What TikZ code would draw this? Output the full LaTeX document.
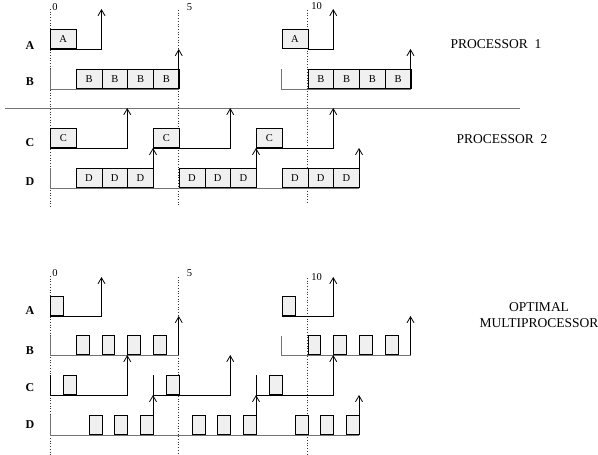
\documentclass[tikz,border=0pt]{standalone}
\usepackage{fontspec}
\setmainfont{Liberation Serif}
\usetikzlibrary{arrows.meta}
\newcommand\T[1]{(50+25.75*(#1))}
\tikzset{
  jobbox/.style={draw=black, fill=gray!12, line width=0.8pt, inner sep=0pt, minimum height=19.5pt, anchor=south west, font=\fontsize{10.5}{10.5}\selectfont},
  blk/.style={draw=black, line width=0.8pt},
  gry/.style={draw=black!55, line width=0.9pt},
  arr/.style={-{Straight Barb[length=6pt,width=7pt]}},
  dots/.style={draw=black!80, dotted, line width=0.7pt},
  rowlab/.style={font=\fontsize{12}{12}\selectfont\bfseries},
  numlab/.style={font=\fontsize{10.5}{10.5}\selectfont},
  title/.style={font=\fontsize{13.5}{16}\selectfont, align=center}
}
\newcommand\jb[5]{\node[jobbox, minimum width={25.75*(#3)}] (#1) at ({\T{#2}},#4) {#5};}
\begin{document}
\begin{tikzpicture}[x=1pt,y=-1pt]
\useasboundingbox (0,0) rectangle (598,455);
% dotted time lines
\draw[dots] ({\T{0}},9) -- ({\T{0}},207);
\draw[dots] ({\T{5}},10) -- ({\T{5}},207);
\draw[dots] ({\T{10}},10) -- ({\T{10}},203);
\draw[dots] ({\T{0}},276) -- ({\T{0}},455);
\draw[dots] ({\T{5}},277) -- ({\T{5}},455);
\draw[dots] ({\T{10}},278) -- ({\T{10}},455);
\node[numlab] (n0) at (55,7) {0};
\node[numlab] (n5) at (189.5,7) {5};
\node[numlab] (n10) at (316.5,6) {10};
\node[numlab] (m0) at (55,273) {0};
\node[numlab] (m5) at (189.5,273) {5};
\node[numlab] (m10) at (316.5,277) {10};
% separator
\draw[gry] (5,108) -- (520,108);
% row labels
\node[rowlab] (lA1) at (30,46) {A};
\node[rowlab] (lB1) at (30,82) {B};
\node[rowlab] (lC2) at (30,143) {C};
\node[rowlab] (lD2) at (30,182) {D};
\node[rowlab] (lA3) at (30,311) {A};
\node[rowlab] (lB3) at (30,351) {B};
\node[rowlab] (lC3) at (30,388) {C};
\node[rowlab] (lD3) at (30,425) {D};
% titles
\node[title] (p1) at (496,44) {PROCESSOR\ \ 1};
\node[title] (p2) at (502,139) {PROCESSOR\ \ 2};
\node[title] (opt) at (539,315) {OPTIMAL\\MULTIPROCESSOR};
% ---------------- processor 1
% A
\draw[blk,arr] ({\T{0}},49) -- ({\T{2}},49) -- ({\T{2}},9);
\jb{a1}{0}{1}{49}{A}
\draw[blk,arr] ({\T{10}},49) -- ({\T{11}},49) -- ({\T{11}},9);
\jb{a2}{9}{1}{49}{A}
% B
\draw[gry] ({\T{0}},69) -- ({\T{0}},89) -- ({\T{5}},89);
\draw[gry] ({\T{9}},69) -- ({\T{9}},89) -- ({\T{14}},89);
\foreach \i in {1,...,4}{\jb{b1-\i}{\i}{1}{89}{B}}
\foreach \i in {10,...,13}{\jb{b2-\i}{\i}{1}{89}{B}}
\draw[blk,arr] ({\T{5}},89) -- ({\T{5}},49);
\draw[blk,arr] ({\T{14}},89) -- ({\T{14}},49);
% ---------------- processor 2
% C
\draw[blk,arr] ({\T{0}},148) -- ({\T{3}},148) -- ({\T{3}},108);
\draw[blk,arr] ({\T{4}},148) -- ({\T{7}},148) -- ({\T{7}},108);
\draw[blk,arr] ({\T{8}},148) -- ({\T{11}},148) -- ({\T{11}},108);
\jb{c1}{0}{1}{148}{C}
\jb{c2}{4}{1}{148}{C}
\jb{c3}{8}{1}{148}{C}
% D
\draw[gry] ({\T{0}},168) -- ({\T{0}},188) -- ({\T{12}},188);
\foreach \i in {1,2,3,5,6,7,9,10,11}{\jb{d-\i}{\i}{1}{188}{D}}
\foreach \i in {4,8,12}{\draw[blk,arr] ({\T{\i}},188) -- ({\T{\i}},148);}
% ---------------- optimal multiprocessor
% A
\draw[blk,arr] ({\T{0}},316) -- ({\T{2}},316) -- ({\T{2}},277);
\draw[blk,arr] ({\T{9}},316) -- ({\T{11}},316) -- ({\T{11}},277);
\jb{oa1}{0}{0.5}{316}{}
\jb{oa2}{9}{0.5}{316}{}
% B
\draw[gry] ({\T{0}},336) -- ({\T{0}},355) -- ({\T{5}},355);
\draw[gry] ({\T{9}},336) -- ({\T{9}},355) -- ({\T{14}},355);
\foreach \i in {1,2,3,4,10,11,12,13}{\jb{ob-\i}{\i}{0.5}{355}{}}
\draw[blk,arr] ({\T{5}},355) -- ({\T{5}},316);
\draw[blk,arr] ({\T{14}},355) -- ({\T{14}},316);
% C
\draw[blk,arr] ({\T{0}},375) -- ({\T{0}},395) -- ({\T{3}},395) -- ({\T{3}},355);
\draw[blk,arr] ({\T{4}},375) -- ({\T{4}},395) -- ({\T{7}},395) -- ({\T{7}},355);
\draw[blk,arr] ({\T{8}},375) -- ({\T{8}},395) -- ({\T{11}},395) -- ({\T{11}},355);
\foreach \i in {0.5,4.5,8.5}{\jb{oc-\i}{\i}{0.5}{395}{}}
% D
\draw[gry] ({\T{0}},415) -- ({\T{0}},435) -- ({\T{12}},435);
\foreach \i in {1.5,2.5,3.5,5.5,6.5,7.5,9.5,10.5,11.5}{\jb{od-\i}{\i}{0.5}{435}{}}
\foreach \i in {4,8,12}{\draw[blk,arr] ({\T{\i}},435) -- ({\T{\i}},395);}
\end{tikzpicture}
\end{document}
